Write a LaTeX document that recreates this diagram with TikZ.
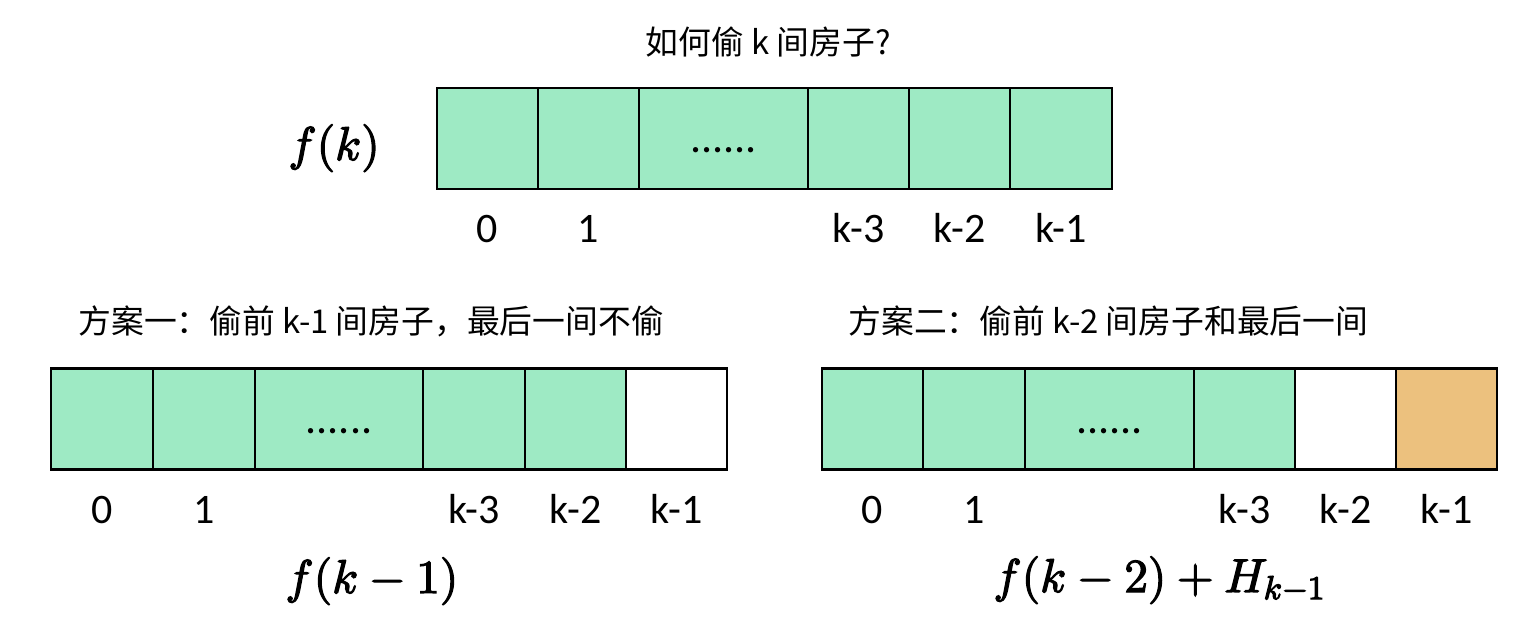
\RequirePackage{fix-cm}
\documentclass[tikz,border=0pt]{standalone}
\usepackage[no-math]{fontspec}
\setmainfont{Carlito}
\newfontfamily\cjk{Noto Sans CJK SC}
\DeclareFontShape{OT1}{cmr}{m}{n}{<->cmr10}{}
\DeclareFontShape{OML}{cmm}{m}{it}{<->cmmi10}{}
\definecolor{cellgreen}{HTML}{9EEAC4}
\definecolor{cellorange}{HTML}{ECC17E}
\newcommand{\heavytext}[1]{\special{pdf:literal direct 2 Tr 0.6 w}#1\special{pdf:literal direct 0 Tr}}
\begin{document}
\begin{tikzpicture}[x=0.5pt,y=-0.5pt,
  cell/.style={draw=black, line width=1.2pt, inner sep=0pt, outer sep=0pt, minimum height=50.5pt},
  gcell/.style={cell, fill=cellgreen},
  wcell/.style={cell, fill=white},
  ocell/.style={cell, fill=cellorange},
  lab/.style={anchor=base, inner sep=0pt, font=\fontsize{21}{25}\selectfont},
  dots/.style={anchor=base, inner sep=0pt, font=\fontsize{22}{26}\selectfont},
  cjktext/.style={inner sep=0pt, font=\cjk\fontsize{16.4}{19}\selectfont},
  formula/.style={anchor=base west, inner sep=0pt, font=\fontsize{23.7}{28}\selectfont}]
\useasboundingbox (0,0) rectangle (1536,628);
% top row
\node[gcell, minimum width=50.5pt] (t0) at (487.5,138.5) {};
\node[gcell, minimum width=50.5pt] (t1) at (588.5,138.5) {};
\node[gcell, minimum width=84.5pt] (tm) at (723.5,138.5) {};
\node[gcell, minimum width=50.5pt] (t3) at (858.5,138.5) {};
\node[gcell, minimum width=50.5pt] (t2) at (959.5,138.5) {};
\node[gcell, minimum width=51pt] (t1k) at (1061,138.5) {};
\node[dots] (tdots) at (723.5,152) {......};
\node[lab] (lt0) at (487.5,242) {0};
\node[lab] (lt1) at (588.5,242) {1};
\node[lab] (lt3) at (858.5,242) {k-3};
\node[lab] (lt2) at (959.5,242) {k-2};
\node[lab] (lt1k) at (1061,242) {k-1};
\node[cjktext, anchor=west] (title) at (645,42) {如何偷 k 间房子?};
\node[formula] (fk) at (288,160) {\heavytext{$f(k)$}};
% bottom left
\node[gcell, minimum width=51pt] (a0) at (102,419) {};
\node[gcell, minimum width=51pt] (a1) at (204,419) {};
\node[gcell, minimum width=84pt] (am) at (339,419) {};
\node[gcell, minimum width=51pt] (a3) at (474,419) {};
\node[gcell, minimum width=50.5pt] (a2) at (575.5,419) {};
\node[wcell, minimum width=50.5pt] (a1k) at (676.5,419) {};
\node[dots] (adots) at (339,433) {......};
\node[lab] (la0) at (102,523) {0};
\node[lab] (la1) at (204,523) {1};
\node[lab] (la3) at (474,523) {k-3};
\node[lab] (la2) at (575.5,523) {k-2};
\node[lab] (la1k) at (676.5,523) {k-1};
\node[cjktext, anchor=west] (plan1) at (78,321) {方案一：偷前 k-1 间房子，最后一间不偷};
\node[formula] (fk1) at (285,593) {\heavytext{$f(k-1)$}};
% bottom right
\node[gcell, minimum width=50.5pt] (b0) at (872.5,419) {};
\node[gcell, minimum width=51pt] (b1) at (974,419) {};
\node[gcell, minimum width=84.5pt] (bm) at (1109.5,419) {};
\node[gcell, minimum width=50.5pt] (b3) at (1244.5,419) {};
\node[wcell, minimum width=50.5pt] (b2) at (1345.5,419) {};
\node[ocell, minimum width=50.5pt] (b1k) at (1446.5,419) {};
\node[dots] (bdots) at (1109.5,433) {......};
\node[lab] (lb0) at (872.5,523) {0};
\node[lab] (lb1) at (974,523) {1};
\node[lab] (lb3) at (1244.5,523) {k-3};
\node[lab] (lb2) at (1345.5,523) {k-2};
\node[lab] (lb1k) at (1446.5,523) {k-1};
\node[cjktext, anchor=west] (plan2) at (848,321) {方案二：偷前 k-2 间房子和最后一间};
\node[formula] (fk2) at (993,592) {\heavytext{$f(k-2)+H_{k-1}$}};
\end{tikzpicture}
\end{document}
